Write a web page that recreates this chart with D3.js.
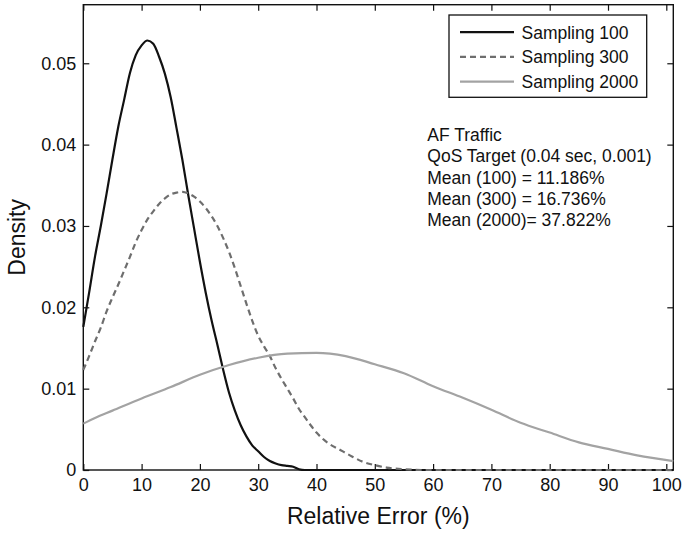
<!DOCTYPE html>
<html>
<head>
<meta charset="utf-8">
<script src="https://cdn.jsdelivr.net/npm/d3@7"></script>
<style>
  body { margin: 0; background: #fff; }
  svg { display: block; font-family: "Liberation Sans", Arial, Helvetica, sans-serif; }
</style>
</head>
<body>
<div id="container"></div>
<script>
// relative error (%) / density
const x100 = [0, 1, 2, 3, 4, 5, 6, 7, 8, 9, 10, 11, 12, 13, 14, 15, 16, 17, 18, 19, 20, 21, 22, 23, 24, 25, 26, 27, 28, 29, 30, 31, 32, 33, 34, 35, 36, 37, 38, 50, 75, 101.2];
const y100 = [0.0176, 0.0218, 0.0262, 0.0300, 0.0340, 0.0382, 0.0422, 0.0455, 0.0488, 0.0510, 0.0522, 0.0528, 0.0524, 0.0508, 0.0487, 0.0458, 0.0420, 0.0381, 0.0338, 0.0297, 0.0256, 0.0218, 0.0184, 0.0154, 0.0123, 0.0095, 0.0073, 0.0055, 0.0041, 0.0030, 0.0023, 0.0016, 0.0011, 0.0008, 0.0006, 0.0005, 0.0004, 0.0001, 0, 0, 0, 0];

const x300 = [0, 1, 2, 3, 4, 5, 6, 7, 8, 9, 10, 11, 12, 13, 14, 15, 16, 17, 18, 19, 20, 21, 22, 23, 24, 25, 26, 27, 28, 29, 30, 31, 32, 33, 34, 35, 36, 37, 38, 39, 40, 42, 44, 46, 48, 50, 52, 55, 58, 80, 101.2];
const y300 = [0.0123, 0.0140, 0.0158, 0.0175, 0.0195, 0.0212, 0.0228, 0.0245, 0.0262, 0.0280, 0.0295, 0.0308, 0.0318, 0.0327, 0.0334, 0.0339, 0.0341, 0.0342, 0.0340, 0.0336, 0.0330, 0.0322, 0.0312, 0.0300, 0.0285, 0.0268, 0.0248, 0.0226, 0.0204, 0.0183, 0.0165, 0.0152, 0.0140, 0.0125, 0.0112, 0.0100, 0.0088, 0.0075, 0.0065, 0.0055, 0.0046, 0.0033, 0.0025, 0.0017, 0.0010, 0.0006, 0.0003, 0.0001, 0, 0, 0];

const x2000 = [0, 2, 5, 10, 15, 20, 25, 30, 35, 40, 45, 50, 55, 60, 65, 70, 75, 80, 85, 90, 95, 101.2];
const y2000 = [0.0057, 0.0064, 0.0073, 0.0088, 0.0102, 0.0117, 0.0129, 0.0138, 0.0143, 0.0144, 0.0140, 0.0130, 0.0119, 0.0103, 0.0089, 0.0074, 0.0058, 0.0046, 0.0034, 0.0026, 0.0018, 0.0011];

const seriesNames = ["Sampling 100", "Sampling 300", "Sampling 2000"];
const xTicks = [0, 10, 20, 30, 40, 50, 60, 70, 80, 90, 100];
const yTicks = [0, 0.01, 0.02, 0.03, 0.04, 0.05];
const notes = ["AF Traffic", "QoS Target (0.04 sec, 0.001)", "Mean (100) = 11.186%", "Mean (300) = 16.736%", "Mean (2000)= 37.822%"];

const width = 684;
const height = 533;
const marginTop = 4.7;
const marginRight = 10.7;
const marginBottom = 63;
const marginLeft = 83.3;

const colors = ["#111111", "#6e6e6e", "#a3a3a3"];
const dashes = [null, "6,4", null];

const series = [
  { name: seriesNames[0], values: x100.map((d, i) => [d, y100[i]]) },
  { name: seriesNames[1], values: x300.map((d, i) => [d, y300[i]]) },
  { name: seriesNames[2], values: x2000.map((d, i) => [d, y2000[i]]) }
];

const x = d3.scaleLinear()
  .domain([0, 101.2])
  .range([marginLeft, width - marginRight]);

const y = d3.scaleLinear()
  .domain([0, 0.0572])
  .range([height - marginBottom, marginTop]);

const line = d3.line()
  .curve(d3.curveMonotoneX)
  .x(d => x(d[0]))
  .y(d => y(d[1]));

const svg = d3.create("svg")
  .attr("width", width)
  .attr("height", height)
  .attr("viewBox", [0, 0, width, height]);

// frame
svg.append("rect")
  .attr("x", marginLeft)
  .attr("y", marginTop)
  .attr("width", width - marginRight - marginLeft)
  .attr("height", height - marginBottom - marginTop)
  .attr("fill", "none")
  .attr("stroke", "#111")
  .attr("stroke-width", 1.4);

// axes, ticks pointing inward like matlab
const tickFont = g => g.selectAll(".tick text")
  .attr("font-size", 18)
  .attr("font-family", "Liberation Sans, Arial, sans-serif")
  .attr("fill", "#111");

svg.append("g")
  .attr("transform", `translate(0,${height - marginBottom})`)
  .call(d3.axisBottom(x).tickValues(xTicks).tickSize(-6).tickSizeOuter(0).tickPadding(8))
  .call(g => g.select(".domain").remove())
  .call(tickFont);

svg.append("g")
  .attr("transform", `translate(${marginLeft},0)`)
  .call(d3.axisLeft(y).tickValues(yTicks).tickSize(-6).tickSizeOuter(0).tickPadding(7)
    .tickFormat(d => d === 0 ? "0" : d3.format(".2f")(d)))
  .call(g => g.select(".domain").remove())
  .call(tickFont);

svg.append("g")
  .attr("transform", `translate(0,${marginTop})`)
  .call(d3.axisTop(x).tickValues(xTicks).tickSize(-6).tickSizeOuter(0).tickFormat(""))
  .call(g => g.select(".domain").remove());

svg.append("g")
  .attr("transform", `translate(${width - marginRight},0)`)
  .call(d3.axisRight(y).tickValues(yTicks).tickSize(-6).tickSizeOuter(0).tickFormat(""))
  .call(g => g.select(".domain").remove());

svg.selectAll(".tick line").attr("stroke", "#111").attr("stroke-width", 1.2);

// curves, drawn in legend order so 300 dashes sit over 100 along zero
svg.append("g")
  .selectAll("path")
  .data(series)
  .join("path")
  .attr("fill", "none")
  .attr("stroke", (d, i) => colors[i])
  .attr("stroke-width", 2.2)
  .attr("stroke-dasharray", (d, i) => dashes[i])
  .attr("d", d => line(d.values));

// axis titles
svg.append("text")
  .attr("x", (marginLeft + width - marginRight) / 2)
  .attr("y", 523.5)
  .attr("text-anchor", "middle")
  .attr("font-size", 23)
  .attr("fill", "#111")
  .text("Relative Error (%)");

svg.append("text")
  .attr("transform", `translate(25,${(marginTop + height - marginBottom) / 2}) rotate(-90)`)
  .attr("text-anchor", "middle")
  .attr("font-size", 23)
  .attr("fill", "#111")
  .text("Density");

// legend
const legendW = 197.7;
const legendX = width - marginRight - 26.6 - legendW;
const legendY = marginTop + 10.3;
const legend = svg.append("g");

legend.append("rect")
  .attr("x", legendX)
  .attr("y", legendY)
  .attr("width", legendW)
  .attr("height", 82.3)
  .attr("fill", "#fff")
  .attr("stroke", "#111")
  .attr("stroke-width", 1.3);

const rows = legend.selectAll("g.row")
  .data(seriesNames)
  .join("g")
  .attr("class", "row")
  .attr("transform", (d, i) => `translate(${legendX},${legendY + 23.5 + i * 24.7})`);

rows.append("line")
  .attr("x1", 11)
  .attr("x2", 65)
  .attr("y1", -6.3)
  .attr("y2", -6.3)
  .attr("stroke", (d, i) => colors[i])
  .attr("stroke-width", 2.2)
  .attr("stroke-dasharray", (d, i) => dashes[i]);

rows.append("text")
  .attr("x", 72.5)
  .attr("font-size", 17.5)
  .attr("fill", "#111")
  .text(d => d);

// annotation
svg.append("g")
  .selectAll("text")
  .data(notes)
  .join("text")
  .attr("x", 427.3)
  .attr("y", (d, i) => 141 + i * 21.3)
  .attr("font-size", 17.5)
  .attr("fill", "#111")
  .text(d => d);

container.append(svg.node());
</script>
</body>
</html>
